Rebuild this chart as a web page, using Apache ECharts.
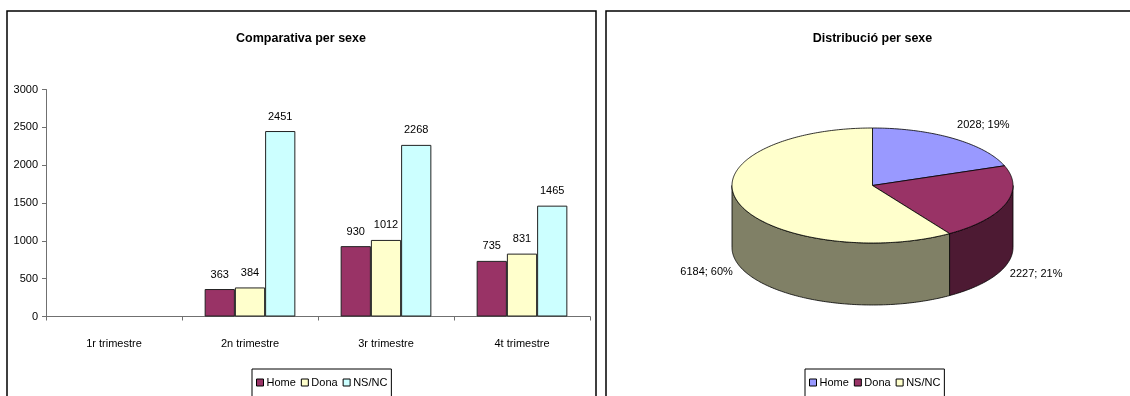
<!DOCTYPE html>
<html>
<head>
<meta charset="utf-8">
<script src="https://cdn.jsdelivr.net/npm/echarts@6/dist/echarts.min.js"></script>
<style>
  html, body { margin: 0; padding: 0; background: #fff; }
  #left { position: absolute; left: 0; top: 0; width: 600px; height: 396px; }
  #right { position: absolute; left: 600px; top: 0; width: 530px; height: 396px; }
</style>
</head>
<body>
<div id="left"></div>
<div id="right"></div>
<script>
// ---------- data ----------
const categories = ['1r trimestre', '2n trimestre', '3r trimestre', '4t trimestre'];
const seriesNames = ['Home', 'Dona', 'NS/NC'];
const homeValues = [null, 363, 930, 735];
const donaValues = [null, 384, 1012, 831];
const nsncValues = [null, 2451, 2268, 1465];
const yMin = 0, yMax = 3000, yStep = 500;

const pieNames = ['Home', 'Dona', 'NS/NC'];
const pieValues = [2028, 2227, 6184];
const piePercents = [19, 21, 60];

// ---------- styles ----------
const FONT = "'Liberation Sans Narrow', 'Arial Narrow', 'Liberation Sans', Arial, sans-serif";
const FS = 11;
const barColors = ['#993366', '#FFFFCC', '#CCFFFF'];
const pieTopColors = ['#9999FF', '#993366', '#FFFFCC'];
const pieSideColors = ['#4D4D80', '#4D1A33', '#808066'];
const AXIS_COLOR = '#707070';

// ---------- left: bar chart ----------
const barData = [homeValues, donaValues, nsncValues];
const left = echarts.init(document.getElementById('left'));
left.setOption({
  animation: false,
  textStyle: { fontFamily: FONT },
  graphic: [{
    type: 'rect', shape: { x: 7, y: 11, width: 589, height: 420 },
    style: { fill: 'none', stroke: '#000', lineWidth: 1.5 }, silent: true
  }],
  title: {
    text: 'Comparativa per sexe', left: 301, top: 32, textAlign: 'center', padding: 0,
    textStyle: { fontFamily: FONT, fontSize: 12.5, fontWeight: 'bold', color: '#000' }
  },
  legend: {
    data: seriesNames, left: 252, top: 369, padding: [8, 4, 20, 4],
    borderColor: '#000', borderWidth: 1, itemGap: 5,
    icon: 'rect', itemWidth: 7, itemHeight: 7,
    itemStyle: { borderColor: '#000', borderWidth: 1 },
    textStyle: { fontFamily: FONT, fontSize: FS, color: '#000', padding: [0, 0, 0, -2] }
  },
  grid: { left: 46, right: 10, top: 89.5, bottom: 79.5, containLabel: false },
  xAxis: {
    type: 'category', data: categories, boundaryGap: true,
    axisLine: { lineStyle: { color: AXIS_COLOR, width: 1 } },
    axisTick: { show: true, length: 4, interval: 0, alignWithLabel: false, lineStyle: { color: AXIS_COLOR } },
    axisLabel: { interval: 0, margin: 22, color: '#000', fontFamily: FONT, fontSize: FS },
    splitLine: { show: false }
  },
  yAxis: {
    type: 'value', min: yMin, max: yMax, interval: yStep,
    axisLine: { show: true, lineStyle: { color: AXIS_COLOR, width: 1 } },
    axisTick: { show: true, length: 4, lineStyle: { color: AXIS_COLOR } },
    axisLabel: { margin: 8, color: '#000', fontFamily: FONT, fontSize: FS, formatter: v => String(v) },
    splitLine: { show: false }
  },
  series: seriesNames.map((n, i) => ({
    name: n, type: 'bar', data: barData[i],
    barGap: '0%', barCategoryGap: '33.3%',
    itemStyle: { color: barColors[i], borderColor: '#222', borderWidth: 1 },
    label: { show: true, position: 'top', distance: 9, color: '#000', fontFamily: FONT, fontSize: FS }
  }))
});

// ---------- right: 3D-looking pie ----------
const PIE = { cx: 272.5, cy: 185.5, rx: 140.5, ry: 57.5, depth: 62 };
const pieTotal = pieValues.reduce((a, b) => a + b, 0);
function sliceAngles(i) {
  let cum = 0;
  for (let k = 0; k < i; k++) cum += pieValues[k];
  const a1 = -90 + cum / pieTotal * 360;
  const a2 = -90 + (cum + pieValues[i]) / pieTotal * 360;
  return [a1, a2];
}
function arcPts(a1, a2, yOff) {
  const pts = [];
  const n = Math.max(2, Math.ceil(Math.abs(a2 - a1)) + 1);
  for (let k = 0; k < n; k++) {
    const a = (a1 + (a2 - a1) * k / (n - 1)) * Math.PI / 180;
    pts.push([PIE.cx + PIE.rx * Math.cos(a), PIE.cy + yOff + PIE.ry * Math.sin(a)]);
  }
  return pts;
}
const edgeStyle = { stroke: '#000', lineWidth: 0.8, lineJoin: 'round' };

const sideSeries = {
  type: 'custom', name: 'sides', coordinateSystem: 'none', z: 2, silent: true,
  data: pieValues.map(v => [v]),
  renderItem: function (params, api) {
    const i = params.dataIndex;
    const [a1, a2] = sliceAngles(i);
    const children = [];
    [[0, 180], [360, 540]].forEach(([lo, hi]) => {
      const s = Math.max(a1, lo), e = Math.min(a2, hi);
      if (e > s) {
        children.push({
          type: 'polygon',
          shape: { points: arcPts(s, e, 0).concat(arcPts(e, s, PIE.depth)) },
          style: Object.assign({ fill: pieSideColors[i] }, edgeStyle)
        });
      }
    });
    return { type: 'group', children: children };
  }
};

const topSeries = pieNames.map((n, i) => ({
  type: 'custom', name: n, coordinateSystem: 'none', z: 3, silent: true,
  itemStyle: { color: pieTopColors[i] },
  data: [[pieValues[i]]],
  renderItem: function (params, api) {
    const [a1, a2] = sliceAngles(i);
    const mid = (a1 + a2) / 2 * Math.PI / 180;
    const c = Math.cos(mid), s = Math.sin(mid);
    const px = PIE.cx + PIE.rx * c, py = PIE.cy + PIE.ry * s;
    const lx = px + (c >= 0 ? 4 : -5);
    const ly = s > 0 ? py + PIE.depth + 8 : py - 13;
    return {
      type: 'group',
      children: [
        {
          type: 'polygon',
          shape: { points: [[PIE.cx, PIE.cy]].concat(arcPts(a1, a2, 0)) },
          style: Object.assign({ fill: pieTopColors[i] }, edgeStyle)
        },
        {
          type: 'text',
          style: {
            text: api.value(0) + '; ' + piePercents[i] + '%',
            x: lx, y: ly, fill: '#000', fontFamily: FONT, fontSize: FS,
            align: c >= 0 ? 'left' : 'right', verticalAlign: 'middle'
          }
        }
      ]
    };
  }
}));

const right = echarts.init(document.getElementById('right'));
right.setOption({
  animation: false,
  textStyle: { fontFamily: FONT },
  graphic: [{
    type: 'rect', shape: { x: 6, y: 11, width: 600, height: 420 },
    style: { fill: 'none', stroke: '#000', lineWidth: 1.5 }, silent: true
  }],
  title: {
    text: 'Distribució per sexe', left: 272.5, top: 32, textAlign: 'center', padding: 0,
    textStyle: { fontFamily: FONT, fontSize: 12.5, fontWeight: 'bold', color: '#000' }
  },
  legend: {
    data: pieNames, left: 205, top: 369, padding: [8, 4, 20, 4],
    borderColor: '#000', borderWidth: 1, itemGap: 5,
    icon: 'rect', itemWidth: 7, itemHeight: 7,
    itemStyle: { borderColor: '#000', borderWidth: 1 },
    textStyle: { fontFamily: FONT, fontSize: FS, color: '#000', padding: [0, 0, 0, -2] }
  },
  series: [sideSeries].concat(topSeries)
});
</script>
</body>
</html>
